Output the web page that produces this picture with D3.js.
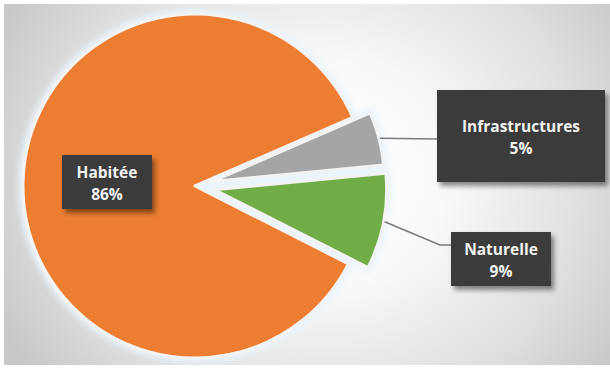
<!DOCTYPE html>
<html>
<head>
<meta charset="utf-8">
<script src="https://cdn.jsdelivr.net/npm/d3@7/dist/d3.min.js"></script>
<style>
  html, body { margin: 0; padding: 0; background: #ffffff; }
  svg { display: block; }
  .lbl { font-family: "Open Sans", "Lato", sans-serif; font-weight: 700; fill: #f2f2f2; }
</style>
</head>
<body>
<script>
// Répartition de la surface par type d'occupation
const categories = ["Infrastructures", "Naturelle", "Habitée"];
const shares = [5, 9, 86];
const sliceColors = ["#A5A5A5", "#70AD47", "#ED7D31"];
const explodeOffsets = [18, 20, 0];

const W = 610, H = 370;
const cx = 195, cy = 186, R = 172;
const startDeg = 66.5;

// Callout boxes (layout only)
const boxes = [
  { x: 437, y: 90, w: 168, h: 92, lead: [[437, 139]] },
  { x: 451, y: 232, w: 100, h: 54, lead: [[440, 245], [451, 245]] },
  { x: 62, y: 155, w: 90, h: 54, lead: null }
];

const svg = d3.select("body").append("svg")
  .attr("width", W).attr("height", H);

const defs = svg.append("defs");

const bg = defs.append("radialGradient").attr("id", "bg")
  .attr("gradientUnits", "userSpaceOnUse")
  .attr("cx", 320).attr("cy", 175).attr("r", 360)
  .attr("gradientTransform", "translate(320,175) scale(1,0.9) translate(-320,-175)");
bg.append("stop").attr("offset", 0).attr("stop-color", "#ffffff");
bg.append("stop").attr("offset", 0.35).attr("stop-color", "#f9f9f9");
bg.append("stop").attr("offset", 0.75).attr("stop-color", "#dedede");
bg.append("stop").attr("offset", 1).attr("stop-color", "#c8c8c8");

const glow = defs.append("filter").attr("id", "glow")
  .attr("x", "-20%").attr("y", "-20%").attr("width", "140%").attr("height", "140%");
glow.append("feGaussianBlur").attr("stdDeviation", 3);

const shadow = defs.append("filter").attr("id", "shadow")
  .attr("x", "-20%").attr("y", "-20%").attr("width", "150%").attr("height", "160%");
shadow.append("feDropShadow").attr("dx", 3).attr("dy", 4)
  .attr("stdDeviation", 2.5).attr("flood-color", "#000").attr("flood-opacity", 0.45);

// Background panel
svg.append("rect").attr("x", 0).attr("y", 0).attr("width", W).attr("height", H)
  .attr("fill", "#ffffff");
svg.append("rect").attr("x", 4).attr("y", 4).attr("width", W - 4).attr("height", H - 9)
  .attr("fill", "url(#bg)");

const pie = d3.pie().sort(null).value(d => d)
  .startAngle(startDeg * Math.PI / 180)
  .endAngle((startDeg + 360) * Math.PI / 180);
const arcs = pie(shares);
const arc = d3.arc().innerRadius(0).outerRadius(R);

function offsetOf(d, i) {
  const a = (d.startAngle + d.endAngle) / 2;
  const e = explodeOffsets[i];
  return [Math.sin(a) * e, -Math.cos(a) * e];
}

const g = svg.append("g").attr("transform", `translate(${cx},${cy})`);

// soft halo behind the slices
g.append("g").attr("filter", "url(#glow)")
  .selectAll("path").data(arcs).join("path")
  .attr("transform", (d, i) => `translate(${offsetOf(d, i)})`)
  .attr("d", arc)
  .attr("fill", "#eaf4fb")
  .attr("stroke", "#eaf4fb")
  .attr("stroke-width", 9);

g.selectAll("path.slice").data(arcs).join("path")
  .attr("class", "slice")
  .attr("transform", (d, i) => `translate(${offsetOf(d, i)})`)
  .attr("d", arc)
  .attr("fill", (d, i) => sliceColors[i])
  .attr("stroke", "#f3f3f3")
  .attr("stroke-width", 3)
  .attr("stroke-linejoin", "round");

// leader lines from the rim of the detached slices to their callouts
arcs.forEach((d, i) => {
  const b = boxes[i];
  if (!b.lead) return;
  const a = (d.startAngle + d.endAngle) / 2;
  const [ox, oy] = offsetOf(d, i);
  const sx = cx + ox + Math.sin(a) * (R + 1);
  const sy = cy + oy - Math.cos(a) * (R + 1);
  const pts = [[sx, sy]].concat(b.lead);
  svg.append("path")
    .attr("d", d3.line()(pts))
    .attr("fill", "none")
    .attr("stroke", "#7a7a7a")
    .attr("stroke-width", 1.6);
});

// callouts
arcs.forEach((d, i) => {
  const b = boxes[i];
  const grp = svg.append("g");
  grp.append("rect")
    .attr("x", b.x).attr("y", b.y).attr("width", b.w).attr("height", b.h)
    .attr("fill", "#3a3a3a")
    .attr("filter", "url(#shadow)");
  const mx = b.x + b.w / 2, my = b.y + b.h / 2;
  grp.append("text").attr("class", "lbl")
    .attr("x", mx).attr("y", my - 4)
    .attr("text-anchor", "middle")
    .attr("font-size", 15.5)
    .text(categories[i]);
  grp.append("text").attr("class", "lbl")
    .attr("x", mx).attr("y", my + 18)
    .attr("text-anchor", "middle")
    .attr("font-size", 15.5)
    .text(d.data + "%");
});
</script>
</body>
</html>
